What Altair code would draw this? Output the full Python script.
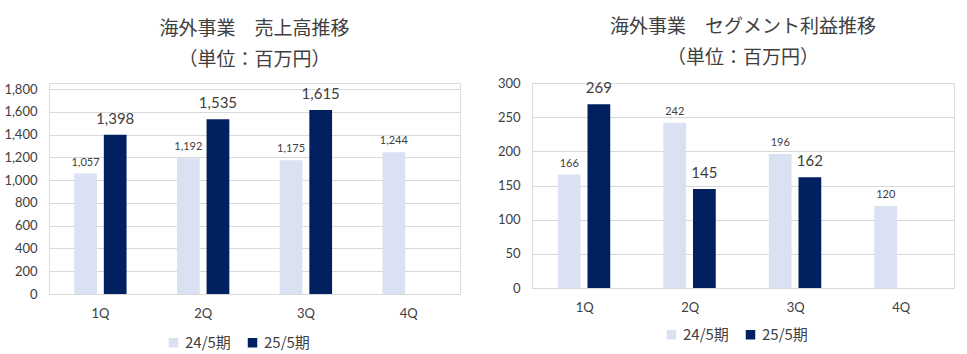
import altair as alt
import pandas as pd

quarters = ["1Q", "2Q", "3Q", "4Q"]
periods = ["24/5期", "25/5期"]
sales_prev = [1057, 1192, 1175, 1244]
sales_curr = [1398, 1535, 1615, None]
profit_prev = [166, 242, 196, 120]
profit_curr = [269, 145, 162, None]

LIGHT = "#D9E1F2"
DARK = "#002060"
NUM_FONT = "Lato"
JP_FONT = "Noto Sans CJK JP"


def make_df(prev, curr):
    rows = []
    for q, a, b in zip(quarters, prev, curr):
        rows.append({"q": q, "period": periods[0], "v": a})
        if b is not None:
            rows.append({"q": q, "period": periods[1], "v": b})
    return pd.DataFrame(rows)


def panel(df, title, ymax, ystep, fmt, w, h, top, legx, legy, toff):
    x = alt.X("q:N", sort=quarters, title=None,
              scale=alt.Scale(paddingInner=0.49, paddingOuter=0.245),
              axis=alt.Axis(labelAngle=0, domain=False, ticks=False, labelPadding=13,
                            labelFontSize=13, labelColor="#404040", labelFont=NUM_FONT))
    xo = alt.XOffset("period:N", sort=periods,
                     scale=alt.Scale(domain=periods, paddingInner=0.233, paddingOuter=0))
    y = alt.Y("v:Q", title=None,
              scale=alt.Scale(domain=[0, ymax], nice=False, range=[h, top]),
              axis=alt.Axis(values=list(range(0, ymax + 1, ystep)), format=fmt,
                            domain=False, ticks=False, labelPadding=12, labelFontSize=13,
                            labelColor="#404040", labelFont=NUM_FONT,
                            gridColor="#D9D9D9", gridWidth=1))
    color = alt.Color("period:N", sort=periods,
                      scale=alt.Scale(domain=periods, range=[LIGHT, DARK]),
                      legend=alt.Legend(title=None, orient="none", direction="horizontal",
                                        legendX=legx, legendY=legy, symbolType="square",
                                        symbolSize=90, symbolStrokeWidth=0, symbolOpacity=1,
                                        labelFontSize=15, labelFont=JP_FONT,
                                        labelColor="#404040", labelOffset=4,
                                        columnPadding=14))
    bars = alt.Chart(df).mark_bar().encode(x=x, xOffset=xo, y=y, color=color)
    lab_prev = alt.Chart(df).transform_filter(
        alt.datum.period == periods[0]
    ).mark_text(baseline="bottom", dy=-6, fontSize=11, font=NUM_FONT, color="#404040").encode(
        x=x, xOffset=xo, y=y, text=alt.Text("v:Q", format=fmt))
    lab_curr = alt.Chart(df).transform_filter(
        alt.datum.period == periods[1]
    ).mark_text(baseline="bottom", dy=-8, fontSize=15, font=NUM_FONT, color="#404040").encode(
        x=x, xOffset=xo, y=y, text=alt.Text("v:Q", format=fmt))
    return alt.layer(bars, lab_prev, lab_curr).properties(
        width=w, height=h,
        title=alt.TitleParams(text=title, fontSize=19, font=JP_FONT, fontWeight="normal",
                              color="#404040", lineHeight=31, offset=toff, anchor="middle"),
    )


left = panel(make_df(sales_prev, sales_curr), ["海外事業　売上高推移", "（単位：百万円）"],
             1800, 200, ",d", 411, 211, 6, 117, 252, 13)
right = panel(make_df(profit_prev, profit_curr), ["海外事業　セグメント利益推移", "（単位：百万円）"],
              300, 50, "d", 422, 205, 0, 132, 244, 9)

chart = alt.hconcat(left, right, spacing=35).resolve_scale(
    color="independent", x="independent", y="independent"
).properties(
    padding={"left": 3, "top": 17, "right": 5, "bottom": 0}
).configure_view(stroke=None).configure(background="white")

chart.save("out.html", embed_options={"renderer": "svg", "actions": False})
